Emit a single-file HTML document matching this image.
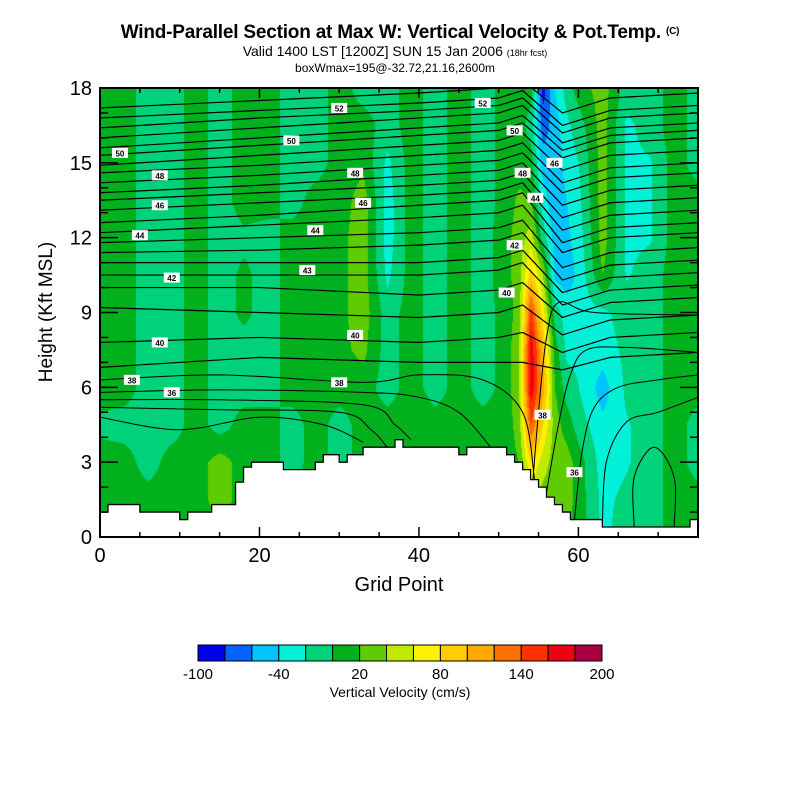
<!DOCTYPE html>
<html><head><meta charset="utf-8">
<style>
body{margin:0;background:#fff;width:800px;height:800px;position:relative;overflow:hidden;font-family:"Liberation Sans",sans-serif;}
.t{position:absolute;white-space:nowrap;color:#000;}
#plotcanvas{position:absolute;left:100px;top:88px;}
#over{position:absolute;left:0;top:0;}
</style></head>
<body>
<div class="t" style="left:0;width:800px;text-align:center;top:22px;font-size:19px;font-weight:bold;letter-spacing:-0.2px;">Wind-Parallel Section at Max W: Vertical Velocity &amp; Pot.Temp. <span style="font-size:10px;vertical-align:4px">(C)</span></div>
<div class="t" style="left:0;width:790px;text-align:center;top:43px;font-size:14px;">Valid 1400 LST [1200Z] SUN 15 Jan 2006 <span style="font-size:9px">(18hr fcst)</span></div>
<div class="t" style="left:0;width:790px;text-align:center;top:61px;font-size:12px;">boxWmax=195@-32.72,21.16,2600m</div>
<canvas id="plotcanvas" width="598" height="449"></canvas>
<svg id="over" width="800" height="800"></svg>
<div class="t" style="left:47px;top:312px;font-size:19px;transform:translate(-50%,-50%) rotate(-90deg);">Height (Kft MSL)</div>
<div class="t" style="left:0;width:798px;text-align:center;top:574px;font-size:20px;">Grid Point</div>
<div class="t" style="left:0;width:800px;text-align:center;top:684px;font-size:14px;">Vertical Velocity (cm/s)</div>
<script>
// ---------- data ----------
const xGrid=[0,3,6,9,12,15,18,21,24,27,30,33,36,39,42,45,48,51,52.5,54,55.5,57,58.5,60,63,66,69,72,75];
const zGrid=[18,16.5,15,13.5,12,10.5,9,7.5,6,4.5,3,1.5,0];
const wByColumn=[
[10,10,10,10,10,10,10,10,10,-5,10,10,10],
[10,10,10,10,10,10,10,10,10,-10,10,10,10],
[-10,-10,-10,-10,-10,-10,-10,-10,-10,-10,-10,10,10],
[-10,-10,-10,-10,-10,-10,-10,-10,-10,-10,10,10,10],
[10,10,10,10,10,10,10,10,10,10,10,10,10],
[-10,-10,-10,-10,-10,-10,-10,-10,-10,-10,30,30,10],
[10,10,10,10,-5,5,5,-10,-10,10,10,10,10],
[10,10,10,10,-10,-10,-10,-10,-10,10,10,10,10],
[-10,-10,-10,-10,10,10,10,10,10,-10,-10,10,10],
[-10,-10,-10,10,10,10,10,10,10,10,10,10,10],
[10,10,10,10,15,15,15,15,10,-10,-10,10,10],
[-10,10,15,30,30,30,30,25,10,10,10,10,10],
[-10,-10,-25,-30,-30,-25,-10,-10,-10,10,10,10,10],
[10,10,10,10,10,10,10,10,10,10,10,10,10],
[-10,-10,-10,-10,-10,-10,-10,-10,-10,10,10,10,10],
[10,10,10,10,10,10,10,10,10,10,10,10,10],
[-10,-10,-10,-10,-10,-10,-10,-10,-10,10,10,10,10],
[10,10,10,10,15,15,10,10,10,10,10,10,10],
[10,10,10,25,30,30,30,40,40,30,20,10,10],
[10,-10,10,20,50,90,150,175,175,140,80,40,40],
[-90,-70,-50,-30,-10,40,70,100,110,80,50,30,30],
[-40,-50,-55,-55,-50,-45,-10,10,20,30,30,25,20],
[-10,-25,-30,-40,-45,-50,-30,-25,-10,10,30,30,20],
[10,-10,-20,-25,-30,-35,-30,-25,-20,-10,10,10,10],
[30,30,30,30,30,20,-25,-30,-50,-35,-30,-25,-25],
[-10,-25,-25,-25,-25,-22,-10,-15,-15,-22,-22,-15,-10],
[-10,-10,-22,-22,-22,-10,-10,-10,-10,-10,-10,-10,-10],
[10,10,10,10,10,10,10,10,10,10,10,10,10],
[-10,-10,-10,10,10,10,10,10,10,-10,-10,10,10]
];
const terrain=[1.0,1.3,1.3,1.3,1.3,1.0,1.0,1.0,1.0,1.0,0.7,1.0,1.0,1.0,1.3,1.3,1.3,2.2,2.8,3.0,3.0,3.0,3.0,2.7,2.7,2.7,2.7,3.0,3.3,3.3,3.0,3.3,3.3,3.6,3.6,3.6,3.6,3.9,3.6,3.6,3.6,3.6,3.6,3.6,3.6,3.3,3.6,3.6,3.6,3.6,3.6,3.3,3.0,2.7,2.3,2.0,1.6,1.3,1.0,0.7,0.7,0.7,0.7,0.4,0.4,0.4,0.4,0.4,0.4,0.4,0.4,0.4,0.4,0.4,0.7,0.7];
const levelColors=["#0000f0","#0064ff","#00c4ff","#00f0d8","#00d27a","#00b01c","#5ecc00","#c0ea00","#fff200","#ffcc00","#ffaa00","#ff7000","#ff3000","#f00010","#a80040"];
const levelBounds=[-100,-80,-60,-40,-20,0,20,40,60,80,100,120,140,160,180,200];
const colorbarLabels=["-100","-40","20","80","140","200"];
const thetaXs=[0,20,40,50,53,58,64,75];
const thetaLines=[
[17.2,17.5,17.8,18.0,18.3,17.0,17.6,17.8],[16.8,17.1,17.4,17.6,17.9,16.5,17.1,17.3],
[16.4,16.8,17.1,17.3,17.6,16.2,16.8,17.0],[16.0,16.4,16.8,17.0,17.3,15.8,16.4,16.6],
[15.6,16.0,16.4,16.6,16.9,15.5,16.1,16.3],[15.3,15.7,16.1,16.3,16.6,15.2,15.8,16.0],
[14.9,15.3,15.7,15.9,16.2,14.7,15.3,15.5],[14.6,14.9,15.3,15.5,15.8,14.2,14.8,15.0],
[14.2,14.5,14.9,15.1,15.4,13.8,14.4,14.6],[13.8,14.1,14.5,14.7,15.0,13.3,13.9,14.1],
[13.5,13.8,14.1,14.3,14.6,12.8,13.4,13.6],[13.1,13.4,13.7,13.9,14.2,12.3,12.9,13.1],
[12.6,12.9,13.3,13.5,13.8,11.8,12.4,12.6],[12.2,12.5,12.8,13.0,13.3,11.4,12.0,12.2],
[11.8,12.0,12.2,12.4,12.7,10.8,11.4,11.6],[11.4,11.5,11.7,11.9,12.2,10.3,10.9,11.1],
[11.0,11.0,11.0,11.2,11.5,9.8,10.4,10.6],[10.5,10.5,10.5,10.7,11.0,9.3,9.9,10.1],
[10.0,10.0,9.7,9.9,10.2,8.8,9.4,9.6],[9.2,9.0,8.8,9.0,9.3,8.1,8.7,8.9],
[7.8,8.0,7.8,8.0,8.2,7.4,8.0,8.2],[6.8,7.2,7.0,7.0,7.0,6.7,7.2,7.4]
];
const lowerContours=[
[[0,6.3],[15,6.5],[33,6.2],[40,6.5],[48,6.3],[53,5.0],[54.5,2.3]],
[[0,5.8],[15,5.9],[33,5.8],[40,5.6],[45,5.0],[49,3.6]],
[[0,5.5],[15,5.5],[33,5.3],[37,4.5],[39,3.9]],
[[0,5.2],[15,5.1],[30,5.0],[34,4.3],[36,3.6]],
[[0,4.8],[10,4.3],[20,4.8],[28,4.5],[33,3.8]],
[[54.3,2.3],[55,5],[56,8],[57.5,9.4],[62,9.0],[75,8.9]],
[[56,1.8],[57.5,4.5],[59,6.5],[61,7.5],[66,7.6],[75,7.4]],
[[59.5,0.7],[60.5,3.5],[62,5.2],[65,6.0],[70,6.3],[75,6.5]],
[[63,0.4],[63.5,3],[66,4.6],[70,5.0],[75,5.6]],
[[67,0.4],[67,2.4],[69.5,3.6],[72,2.4],[72,0.4]]
];
const contourLabels=[["50",2.5,15.4],["48",7.5,14.5],["46",7.5,13.3],["44",5,12.1],["42",9,10.4],["40",7.5,7.8],["38",4,6.3],["36",9,5.8],["52",30,17.2],["50",24,15.9],["48",32,14.6],["46",33,13.4],["44",27,12.3],["43",26,10.7],["40",32,8.1],["38",30,6.2],["52",48,17.4],["50",52,16.3],["48",53,14.6],["44",54.6,13.6],["42",52,11.7],["40",51,9.8],["46",57,15.0],["38",55.5,4.9],["36",59.5,2.6]];
// ---------- axes ----------
const PX=100,PY=88,PW=598,PH=449,XMAX=75,ZMAX=18;
const sx=x=>PX+x/XMAX*PW, sy=z=>PY+PH-z/ZMAX*PH;
function wAt(x,z){
  let i=0; while(i<xGrid.length-2 && x>xGrid[i+1]) i++;
  let tx=(x-xGrid[i])/(xGrid[i+1]-xGrid[i]); tx=Math.max(0,Math.min(1,tx));
  let zi=(ZMAX-z)/1.5; let j=Math.min(zGrid.length-2,Math.max(0,Math.floor(zi))); let tz=Math.max(0,Math.min(1,zi-j));
  const a=wByColumn[i][j],b=wByColumn[i+1][j],c=wByColumn[i][j+1],d=wByColumn[i+1][j+1];
  return (a*(1-tx)+b*tx)*(1-tz)+(c*(1-tx)+d*tx)*tz;
}
function terrAt(x){return terrain[Math.min(terrain.length-1,Math.floor(x))];}
const cv=document.getElementById('plotcanvas'),ctx=cv.getContext('2d');
const rgb=levelColors.map(h=>[parseInt(h.substr(1,2),16),parseInt(h.substr(3,2),16),parseInt(h.substr(5,2),16)]);
const img=ctx.createImageData(PW,PH);
for(let py=0;py<PH;py++){const z=(PH-py)/PH*ZMAX;
 for(let px=0;px<PW;px++){const x=px/PW*XMAX;const k=(py*PW+px)*4;
  if(z<terrAt(x)){img.data[k]=img.data[k+1]=img.data[k+2]=255;img.data[k+3]=255;continue;}
  const w=wAt(x,z); let L=0; while(L<14 && w>=levelBounds[L+1]) L++;
  const c=rgb[L]; img.data[k]=c[0];img.data[k+1]=c[1];img.data[k+2]=c[2];img.data[k+3]=255;}}
ctx.putImageData(img,0,0);
// ---------- overlay ----------
const NS='http://www.w3.org/2000/svg',svg=document.getElementById('over');
function mk(tag,attrs,parent){const e=document.createElementNS(NS,tag);for(const k in attrs)e.setAttribute(k,attrs[k]);(parent||svg).appendChild(e);return e;}
const defs=mk('defs',{});const cp=mk('clipPath',{id:'pc'},defs);mk('rect',{x:PX,y:PY,width:PW,height:PH},cp);
const g=mk('g',{'clip-path':'url(#pc)'});


function smooth(pts){let d='M'+pts[0][0]+','+pts[0][1];for(let i=0;i<pts.length-1;i++){const p0=pts[Math.max(0,i-1)],p1=pts[i],p2=pts[i+1],p3=pts[Math.min(pts.length-1,i+2)];
 d+=' C'+(p1[0]+(p2[0]-p0[0])/6)+','+(p1[1]+(p2[1]-p0[1])/6)+' '+(p2[0]-(p3[0]-p1[0])/6)+','+(p2[1]-(p3[1]-p1[1])/6)+' '+p2[0]+','+p2[1];}return d;}
function poly(pts){return 'M'+pts.map(p=>p[0]+','+p[1]).join(' L');}
thetaLines.forEach(hs=>{const p=mk('path',{d:poly(hs.map((h,i)=>[sx(thetaXs[i]),sy(h)])),fill:'none',stroke:'#000','stroke-width':1.2,'stroke-linejoin':'round'},g);
 
 });
lowerContours.forEach(pl=>{const p=mk('path',{d:smooth(pl.map(q=>[sx(q[0]),sy(q[1])])),fill:'none',stroke:'#000','stroke-width':1},g);
 
 });
let td='M'+sx(0)+','+sy(0);terrain.forEach((h,i)=>{if(i>=XMAX)return;td+=' L'+sx(i)+','+sy(h)+' L'+sx(i+1)+','+sy(h);});td+=' L'+sx(XMAX)+','+sy(0)+' Z';
const tp=mk('path',{d:td,fill:'#fff',stroke:'#000','stroke-width':1.3},g);


contourLabels.forEach(l=>{const gg=mk('g',{});
 mk('rect',{x:sx(l[1])-8,y:sy(l[2])-5,width:16,height:10,fill:'#fff'},gg);
 const t=mk('text',{x:sx(l[1]),y:sy(l[2])+3.5,'font-size':8,'font-weight':'bold','text-anchor':'middle','font-family':'Liberation Sans, sans-serif'},gg);t.textContent=l[0];});
const fr=mk('rect',{x:PX,y:PY,width:PW,height:PH,fill:'none',stroke:'#000','stroke-width':2});


for(let x=0;x<=XMAX;x+=5){const L=(x%20===0)?10:5;
 mk('line',{x1:sx(x),x2:sx(x),y1:PY+PH,y2:PY+PH-L,stroke:'#000','stroke-width':1.5});
 mk('line',{x1:sx(x),x2:sx(x),y1:PY,y2:PY+L,stroke:'#000','stroke-width':1.5});
 if(x%20===0){const t=mk('text',{x:sx(x),y:PY+PH+25,'font-size':20,'text-anchor':'middle','font-family':'Liberation Sans, sans-serif'});t.textContent=x;
  }}
for(let z=0;z<=ZMAX;z+=1){const L=(z%3===0)?18:8;
 mk('line',{x1:PX,x2:PX+L,y1:sy(z),y2:sy(z),stroke:'#000','stroke-width':1.5});
 mk('line',{x1:PX+PW,x2:PX+PW-L,y1:sy(z),y2:sy(z),stroke:'#000','stroke-width':1.5});
 if(z%3===0){const t=mk('text',{x:92,y:sy(z)+7,'font-size':20,'text-anchor':'end','font-family':'Liberation Sans, sans-serif'});t.textContent=z;
  }}
const CBX=198,CBW=404,CBY=645,CBH=16,bw=CBW/levelColors.length;
levelColors.forEach((c,i)=>{const r=mk('rect',{x:CBX+i*bw,y:CBY,width:bw,height:CBH,fill:c,stroke:'#000','stroke-width':1});
 });
colorbarLabels.forEach((s,i)=>{const t=mk('text',{x:CBX+i*3*bw,y:CBY+CBH+18,'font-size':15,'text-anchor':'middle','font-family':'Liberation Sans, sans-serif'});t.textContent=s;
 });
</script>
</body></html>
